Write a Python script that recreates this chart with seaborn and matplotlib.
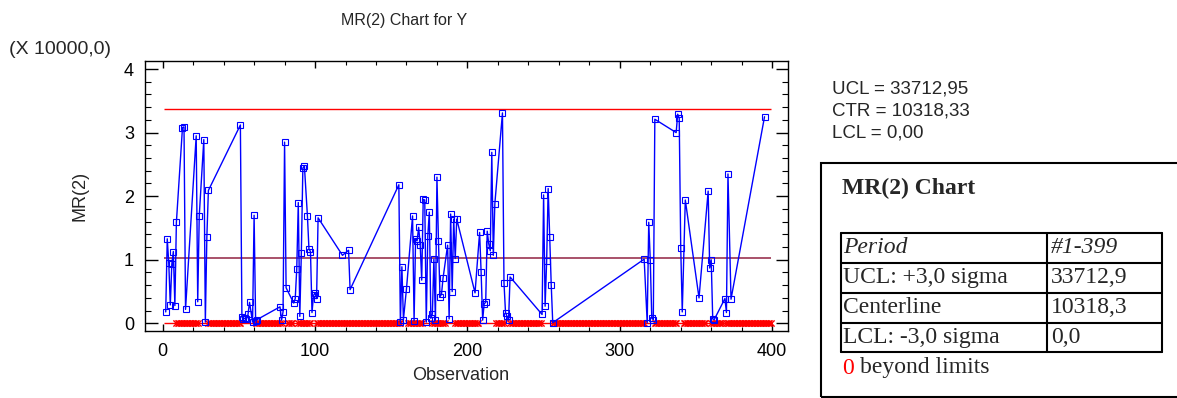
import numpy as np
import pandas as pd
import seaborn as sns
import matplotlib.pyplot as plt
from matplotlib.patches import Rectangle
from matplotlib.lines import Line2D
from matplotlib.ticker import MultipleLocator

## datos (MR en unidades de 10000)
obs = [2, 3, 4, 5, 6, 7, 8, 9, 13, 14, 15, 22, 23, 24, 27, 28, 29, 30,
       51, 52, 53, 54, 55, 56, 57, 59, 60, 61, 62, 77, 78, 79, 80, 81,
       86, 87, 88, 89, 90, 91, 92, 93, 95, 96, 97, 98, 99, 100, 101, 102,
       118, 122, 123, 155, 156, 157, 158, 160, 164, 165, 166, 167, 168, 169,
       170, 171, 172, 173, 174, 175, 176, 177, 178, 179, 180, 181, 182, 183,
       184, 187, 188, 189, 190, 191, 192, 193, 205, 208, 209, 210, 211, 212,
       213, 214, 215, 216, 217, 218, 223, 224, 225, 226, 227, 228,
       249, 250, 251, 252, 253, 254, 255, 256, 316, 318, 319, 320, 321, 322,
       323, 337, 338, 339, 340, 341, 343, 352, 358, 359, 360, 361, 362,
       369, 370, 371, 373, 395]
mr = [0.18, 1.33, 0.95, 0.29, 0.93, 1.13, 0.28, 1.59, 3.08, 3.09, 0.22, 2.95, 0.34, 1.69, 2.89, 0.02, 1.36, 2.09,
      3.12, 0.10, 0.07, 0.08, 0.07, 0.14, 0.33, 0.02, 1.70, 0.04, 0.06, 0.26, 0.05, 0.18, 2.85, 0.56,
      0.32, 0.39, 0.86, 1.90, 0.11, 1.10, 2.44, 2.48, 1.69, 1.17, 1.13, 0.17, 0.44, 0.48, 0.39, 1.66,
      1.07, 1.15, 0.53, 2.18, 0.02, 0.89, 0.06, 0.54, 1.69, 0.04, 1.33, 1.30, 1.51, 1.24,
      0.68, 1.95, 1.94, 0.02, 1.38, 1.75, 0.08, 0.15, 1.01, 0.05, 2.30, 1.30, 0.42, 0.46,
      0.71, 1.23, 0.07, 1.72, 0.50, 1.64, 1.02, 1.64, 0.48, 1.43, 0.80, 0.05, 0.31, 0.33,
      1.45, 1.25, 1.14, 2.69, 1.07, 1.88, 3.31, 0.64, 0.17, 0.11, 0.05, 0.73,
      0.14, 2.02, 0.27, 0.98, 2.12, 1.36, 0.61, 0.01, 1.01, 0.01, 1.59, 1.00, 0.08, 0.06,
      3.21, 3.00, 3.29, 3.23, 1.19, 0.18, 1.94, 0.40, 2.08, 0.87, 1.00, 0.07, 0.06,
      0.39, 0.17, 2.35, 0.38, 3.25]

## tramos de observaciones marcadas con x roja sobre el LCL
zero_runs = [(9, 23), (30, 51), (61, 78), (82, 85), (89, 97), (101, 156), (161, 170),
             (177, 185), (192, 207), (219, 224), (228, 248), (256, 316), (323, 337),
             (342, 356), (360, 367), (370, 399)]

ucl, ctr, lcl = 3.371295, 1.031833, 0.0
right_lines = ['UCL = 33712,95', 'CTR = 10318,33', 'LCL = 0,00']
table_rows = [('Period', '#1-399'), ('UCL: +3,0 sigma', '33712,9'),
              ('Centerline', '10318,3'), ('LCL: -3,0 sigma', '0,0')]

df = pd.DataFrame({'Observation': obs, 'MR': mr})
zero_obs = [i for a, b in zero_runs for i in range(a, b + 1)]
dz = pd.DataFrame({'Observation': zero_obs, 'MR': [0.0] * len(zero_obs)})

sns.set_style('ticks')
plt.rcParams['font.family'] = ['Liberation Sans', 'DejaVu Sans']

W, H = 1177, 398
fig = plt.figure(figsize=(W / 100, H / 100), dpi=100)
ax = fig.add_axes([145 / W, 1 - 331 / H, (788 - 145) / W, (331 - 61) / H])

## lineas de control
ax.hlines(ucl, 1, 399, color='red', lw=1.0, zorder=2)
ax.hlines(ctr, 1, 399, color='#993350', lw=1.2, zorder=2)
ax.hlines(lcl, 1, 399, color='red', lw=1.0, zorder=2)

sns.scatterplot(data=dz, x='Observation', y='MR', marker='x', color='red', s=20,
                linewidth=1.0, ax=ax, zorder=3)
sns.lineplot(data=df, x='Observation', y='MR', color='blue', lw=1.0, marker='s',
             markersize=4, markerfacecolor='none', markeredgecolor='blue',
             markeredgewidth=0.8, sort=False, estimator=None, ax=ax, zorder=4)

ax.set_xlim(-11.6, 410.4)
ax.set_ylim(-0.12, 4.126)
ax.xaxis.set_major_locator(MultipleLocator(100))
ax.xaxis.set_minor_locator(MultipleLocator(20))
ax.yaxis.set_major_locator(MultipleLocator(1))
ax.yaxis.set_minor_locator(MultipleLocator(0.2))
ax.tick_params(which='both', direction='in', top=True, right=True, colors='black', labelsize=13)
ax.tick_params(axis='y', which='major', length=9, width=1, pad=8)
ax.tick_params(axis='y', which='minor', length=4, width=0.8)
ax.tick_params(axis='x', which='major', length=5, width=1, pad=9)
ax.tick_params(axis='x', which='minor', length=3, width=0.8)
for s in ax.spines.values():
    s.set_color('black')
    s.set_linewidth(1.0)

ax.set_xlabel('Observation', fontsize=13)
ax.xaxis.set_label_coords((461 - 145) / 643, -0.135)
ax.set_ylabel('MR(2)', fontsize=13)
ax.yaxis.set_label_coords((88 - 145) / 643, 0.5)

fig.text(404 / W, 1 - 20 / H, 'MR(2) Chart for Y', ha='center', va='center', fontsize=11.5)
fig.text(9 / W, 1 - 49 / H, '(X 10000,0)', ha='left', va='center', fontsize=14)

for i, t in enumerate(right_lines):
    fig.text(832 / W, 1 - (89 + 22 * i) / H, t, ha='left', va='center', fontsize=13.5)

## cuadro de la derecha
fig.add_artist(Rectangle((821 / W, 1 - 397 / H), (1200 - 821) / W, (397 - 163) / H,
                         transform=fig.transFigure, fill=False, lw=1.5, ec='black', clip_on=False))
serif = ['Liberation Serif', 'DejaVu Serif']
fig.text(842 / W, 1 - 188 / H, 'MR(2) Chart', family=serif, fontweight='bold',
         fontsize=17, ha='left', va='center')

rows_y = [233, 262.5, 292.5, 322.5, 352]
x0, x1, x2 = 841, 1047, 1162
for y in rows_y:
    fig.add_artist(Line2D([x0 / W, x2 / W], [1 - y / H, 1 - y / H], transform=fig.transFigure,
                          color='black', lw=1.5))
for x in (x0, x1, x2):
    fig.add_artist(Line2D([x / W, x / W], [1 - rows_y[0] / H, 1 - rows_y[-1] / H],
                          transform=fig.transFigure, color='black', lw=1.5))
for i, (a, b) in enumerate(table_rows):
    yc = 1 - (rows_y[i] + rows_y[i + 1]) / 2 / H
    style = 'italic' if i == 0 else 'normal'
    fig.text((x0 + 2) / W, yc, a, family=serif, style=style, fontsize=17, ha='left', va='center')
    fig.text((x1 + 4) / W, yc, b, family=serif, style=style, fontsize=17, ha='left', va='center')

fig.text(842 / W, 1 - 368 / H, '0', family=serif, color='red', fontsize=17, ha='left', va='center')
fig.text(860 / W, 1 - 368 / H, 'beyond limits', family=serif, fontsize=17, ha='left', va='center')

plt.savefig('out.png', dpi=100)
